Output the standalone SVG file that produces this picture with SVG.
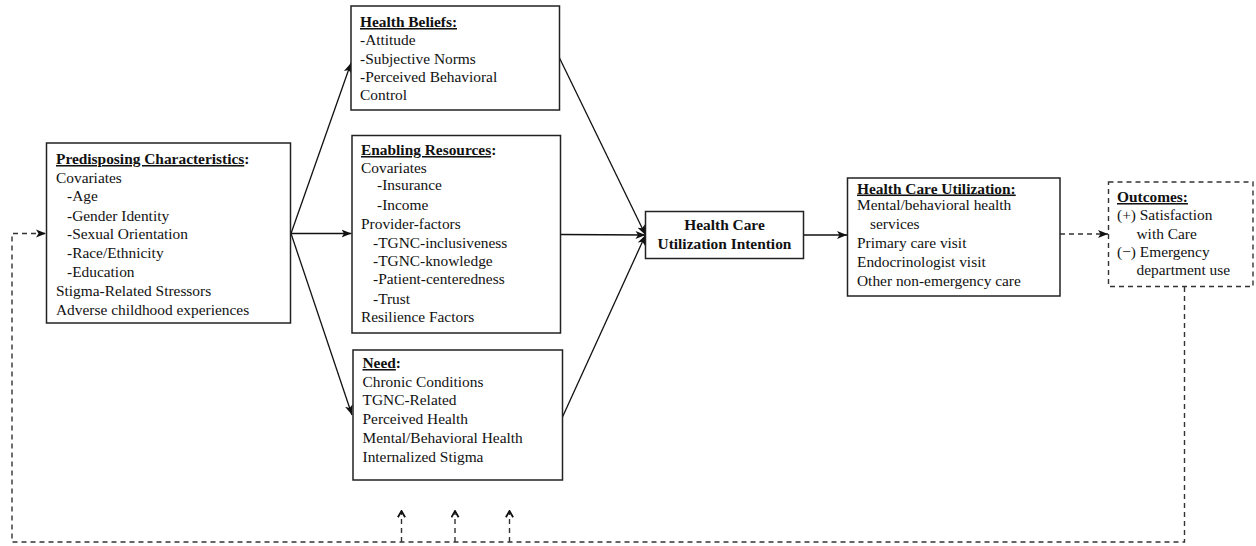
<svg xmlns="http://www.w3.org/2000/svg" width="1256" height="546" viewBox="0 0 1256 546">
  <style>
    text { font-family: "Liberation Serif", "Times New Roman", serif; font-size: 15.4px; fill: #111; }
    .title { font-weight: bold; }
    .u { text-decoration: underline; }
    .box { fill: #fff; stroke: #222; stroke-width: 1.5; }
    .dbox { fill: #fff; stroke: #333; stroke-width: 1.4; stroke-dasharray: 5 4; }
    .link { fill: none; stroke: #111; stroke-width: 1.3; }
    .dlink { fill: none; stroke: #333; stroke-width: 1.4; stroke-dasharray: 5 4; }
  </style>
  <defs>
    <marker id="arrow" viewBox="0 0 10 10" refX="10" refY="5" markerWidth="10" markerHeight="10" markerUnits="userSpaceOnUse" orient="auto">
      <path d="M0,1 L10,5 L0,9 L2.5,5 z" fill="#111"/>
    </marker>
    <marker id="chev" viewBox="0 0 10 10" refX="9" refY="5" markerWidth="9" markerHeight="9" markerUnits="userSpaceOnUse" orient="auto">
      <path d="M2,1 L9,5 L2,9" fill="none" stroke="#111" stroke-width="2"/>
    </marker>
  </defs>

  <!-- connectors -->
  <g id="connectors">
    <line class="link" x1="291" y1="233.5" x2="351" y2="63" marker-end="url(#arrow)"/>
    <line class="link" x1="291" y1="233.5" x2="351.5" y2="233.5" marker-end="url(#arrow)"/>
    <line class="link" x1="291" y1="233.5" x2="352" y2="415" marker-end="url(#arrow)"/>
    <line class="link" x1="559.5" y1="58" x2="645.5" y2="235" marker-end="url(#arrow)"/>
    <line class="link" x1="560.5" y1="234.5" x2="645.5" y2="235" marker-end="url(#arrow)"/>
    <line class="link" x1="562.5" y1="417" x2="645.5" y2="235" marker-end="url(#arrow)"/>
    <line class="link" x1="803.5" y1="235" x2="847" y2="235" marker-end="url(#arrow)"/>
    <line class="dlink" x1="1060" y1="234" x2="1108" y2="234" marker-end="url(#arrow)"/>
    <!-- feedback loop -->
    <polyline class="dlink" points="1184.5,287 1184.5,542 12,542 12,233.5 46,233.5" marker-end="url(#arrow)"/>
    <line class="dlink" x1="401.5" y1="542" x2="401.5" y2="511" marker-end="url(#chev)"/>
    <line class="dlink" x1="455" y1="542" x2="455" y2="511" marker-end="url(#chev)"/>
    <line class="dlink" x1="509.5" y1="542" x2="509.5" y2="511" marker-end="url(#chev)"/>
  </g>

  <g id="predisposing">
    <rect class="box" x="46.5" y="143" width="244" height="180"/>
    <text x="56" y="164" class="title"><tspan class="u">Predisposing Characteristics</tspan>:</text>
    <text x="56" y="182.5">Covariates</text>
    <text x="67" y="201">-Age</text>
    <text x="67" y="220.5">-Gender Identity</text>
    <text x="67" y="239">-Sexual Orientation</text>
    <text x="67" y="258">-Race/Ethnicity</text>
    <text x="67" y="277">-Education</text>
    <text x="56" y="295.5">Stigma-Related  Stressors</text>
    <text x="56" y="315">Adverse childhood experiences</text>
  </g>

  <g id="health-beliefs">
    <rect class="box" x="351" y="6" width="208.5" height="104"/>
    <text x="360" y="27" class="title"><tspan class="u">Health Beliefs:</tspan></text>
    <text x="360" y="45">-Attitude</text>
    <text x="360" y="63.5">-Subjective Norms</text>
    <text x="360" y="82">-Perceived Behavioral</text>
    <text x="360" y="100">Control</text>
  </g>

  <g id="enabling">
    <rect class="box" x="352" y="135.5" width="208.5" height="197.5"/>
    <text x="361" y="155" class="title"><tspan class="u">Enabling Resources</tspan>:</text>
    <text x="361" y="172.5">Covariates</text>
    <text x="377" y="190">-Insurance</text>
    <text x="377" y="210">-Income</text>
    <text x="361" y="228.5">Provider-factors</text>
    <text x="373" y="248">-TGNC-inclusiveness</text>
    <text x="373" y="266">-TGNC-knowledge</text>
    <text x="373" y="284">-Patient-centeredness</text>
    <text x="373" y="304">-Trust</text>
    <text x="361" y="321.5">Resilience Factors</text>
  </g>

  <g id="need">
    <rect class="box" x="353" y="350" width="209.5" height="130"/>
    <text x="362.5" y="368" class="title"><tspan class="u">Need</tspan>:</text>
    <text x="362.5" y="386.5">Chronic Conditions</text>
    <text x="362.5" y="405">TGNC-Related</text>
    <text x="362.5" y="424">Perceived Health</text>
    <text x="362.5" y="442.5">Mental/Behavioral Health</text>
    <text x="362.5" y="461.5">Internalized Stigma</text>
  </g>

  <g id="intention">
    <rect class="box" x="645.5" y="211.5" width="158" height="47"/>
    <text x="724.5" y="230" class="title" text-anchor="middle">Health Care</text>
    <text x="724.5" y="248.5" class="title" text-anchor="middle">Utilization Intention</text>
  </g>

  <g id="utilization">
    <rect class="box" x="847.5" y="178" width="212.5" height="118"/>
    <text x="857" y="193.5" class="title"><tspan class="u">Health Care Utilization:</tspan></text>
    <text x="857" y="210">Mental/behavioral health</text>
    <text x="870" y="228.5">services</text>
    <text x="857" y="248">Primary care visit</text>
    <text x="857" y="266.5">Endocrinologist visit</text>
    <text x="857" y="286">Other non-emergency care</text>
  </g>

  <g id="outcomes">
    <rect class="dbox" x="1108.5" y="182" width="144.5" height="104.5"/>
    <text x="1117" y="202" class="title"><tspan class="u">Outcomes:</tspan></text>
    <text x="1117" y="219.5">(+) Satisfaction</text>
    <text x="1136.5" y="239">with Care</text>
    <text x="1117" y="257">(−) Emergency</text>
    <text x="1136.5" y="275">department use</text>
  </g>
</svg>
